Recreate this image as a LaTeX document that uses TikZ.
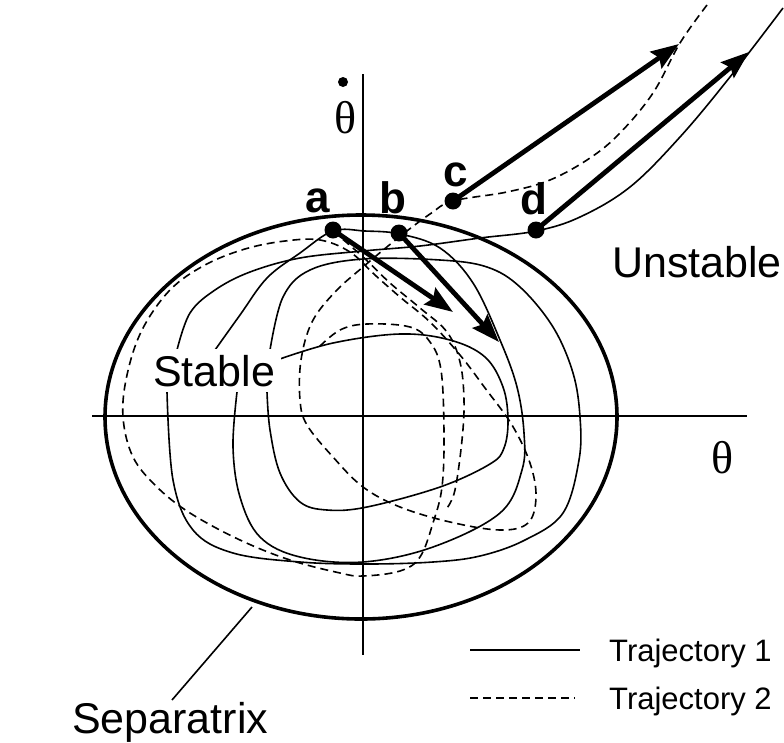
\documentclass[tikz,border=0pt]{standalone}
\usepackage{fontspec}
\setmainfont{Liberation Sans}
\newfontfamily\thfont{Liberation Serif}
\usetikzlibrary{arrows.meta,positioning}

\begin{document}
\begin{tikzpicture}[x=1pt, y=-1pt,
    traj/.style={line width=1.6pt, line join=round},
    trajb/.style={line width=1.6pt, dash pattern=on 8pt off 5pt},
    sepx/.style={line width=3.6pt},
    axis/.style={line width=1.5pt},
    vec/.style={line width=4.8pt, -{Stealth[length=28pt, width=20pt, inset=4pt]}},
    dot/.style={circle, fill, inner sep=0pt, minimum size=17pt},
    pt/.style={font=\fontsize{44}{48}\selectfont\bfseries, inner sep=0pt},
    txt/.style={font=\fontsize{43}{48}\selectfont, inner sep=0pt, anchor=base west},
    leg/.style={font=\fontsize{31}{36}\selectfont, inner sep=0pt, anchor=base west}
]
    \useasboundingbox (0,0) rectangle (784,742);

    % axes
    \coordinate (xl) at (92,416);
    \coordinate (xr) at (747,416);
    \coordinate (yt) at (363,74);
    \coordinate (yb) at (363,655);
    \draw[axis] (xl) -- (xr);
    \draw[axis] (yt) -- (yb);

    % separatrix
    \draw[sepx] (361,417) ellipse [x radius=256, y radius=202];

    % Trajectory 1 (solid)
    \draw[traj] plot[smooth, tension=0.6] coordinates {(277,360) (333,343) (400,334) (450,340) (485,357) (503,387) (508,420) (504,448) (490,464) (440,487) (367,507) (327,510) (300,502) (280,473) (270,430) (267,392)};
    \draw[traj] plot[smooth, tension=0.6] coordinates {(270,350) (283,297) (310,270) (363,259) (440,260) (487,267) (520,287) (553,327) (573,373) (580,417) (579,460) (563,513) (525,540) (480,556) (433,562) (367,564) (300,562) (233,553) (193,530) (173,480) (167,392)};
    \draw[traj] plot[smooth, tension=0.6] coordinates {(215,350) (240,315) (267,278) (300,253) (333,231) (365,231) (400,234) (440,248) (473,283) (500,340) (517,387) (524,433) (522,470) (500,513) (433,547) (363,562) (300,557) (260,537) (240,497) (233,447) (237,392)};
    \draw[traj] plot[smooth, tension=0.6] coordinates {(177,350) (190,313) (215,290) (250,272) (300,258) (363,251) (420,246) (480,238) (536,231) (580,217) (630,187) (680,137) (730,77) (783,8)};

    % Trajectory 2 (dashed)
    \draw[trajb] plot[smooth, tension=0.6] coordinates {(707,5) (680,43) (653,93) (620,133) (590,158) (550,180) (507,192) (453,201) (430,214) (398,238) (363,267) (335,292) (312,322) (301,360) (300,400) (307,425) (333,457) (363,487) (400,507) (450,522) (500,530) (528,523) (536,497) (530,463) (512,425) (485,388) (460,355) (430,322) (400,297) (375,275) (350,252) (320,240) (285,241) (245,249) (205,265) (170,290) (142,330) (127,375) (123,417) (133,457) (157,487) (190,513) (240,540) (290,560) (340,573) (363,576) (400,571) (420,557) (433,523) (442,487) (444,433) (441,370) (430,342) (410,327) (367,324) (340,330) (318,348)};
    \draw[trajb] plot[smooth, tension=0.6] coordinates {(333,231) (362,256) (390,283) (420,308) (447,332) (460,362) (464,400) (462,440) (455,490) (447,508)};

    % label of the stable region
    \node[txt, fill=white, inner xsep=6pt, inner ysep=6pt] (stab) at (147,386) {Stable};
    \node[txt] (unst) at (612,277) {Unstable};

    % states and their velocity vectors
    \node[dot] (pa) at (333,230) {};
    \node[dot] (pb) at (399,233) {};
    \node[dot] (pc) at (453,201) {};
    \node[dot] (pd) at (536,230) {};
    \coordinate (ta) at (453,312);
    \coordinate (tb) at (499,342);
    \coordinate (tc) at (679,44);
    \coordinate (td) at (749,52);
    \draw[vec] (pa.center) -- (ta);
    \draw[vec] (pb.center) -- (tb);
    \draw[vec] (pc.center) -- (tc);
    \draw[vec] (pd.center) -- (td);
    \node[pt] (la) at (318,201) {a};
    \node[pt] (lb) at (393,198) {b};
    \node[pt] (lc) at (456,175) {c};
    \node[pt] (ld) at (534,199) {d};

    % axis labels
    \node[font=\fontsize{46}{50}\selectfont\thfont, inner sep=0pt] (th) at (723,458) {θ};
    \node[font=\fontsize{46}{50}\selectfont\thfont, inner sep=0pt] (thd) at (346,118) {θ};
    \node[dot, minimum size=10pt] (thdot) at (343,82) {};

    % separatrix label
    \node[txt] (sep) at (72,733) {Separatrix};
    \coordinate (sepa) at (252,607);
    \coordinate (sepb) at (172,700);
    \draw[traj] (sepa) -- (sepb);

    % legend
    \coordinate (l1a) at (470,650);
    \coordinate (l1b) at (580,650);
    \coordinate (l2a) at (470,698);
    \coordinate (l2b) at (575,698);
    \draw[traj, line width=2.2pt] (l1a) -- (l1b);
    \draw[trajb] (l2a) -- (l2b);
    \node[leg] (t1) at (609,661) {Trajectory 1};
    \node[leg] (t2) at (609,709) {Trajectory 2};
\end{tikzpicture}
\end{document}
